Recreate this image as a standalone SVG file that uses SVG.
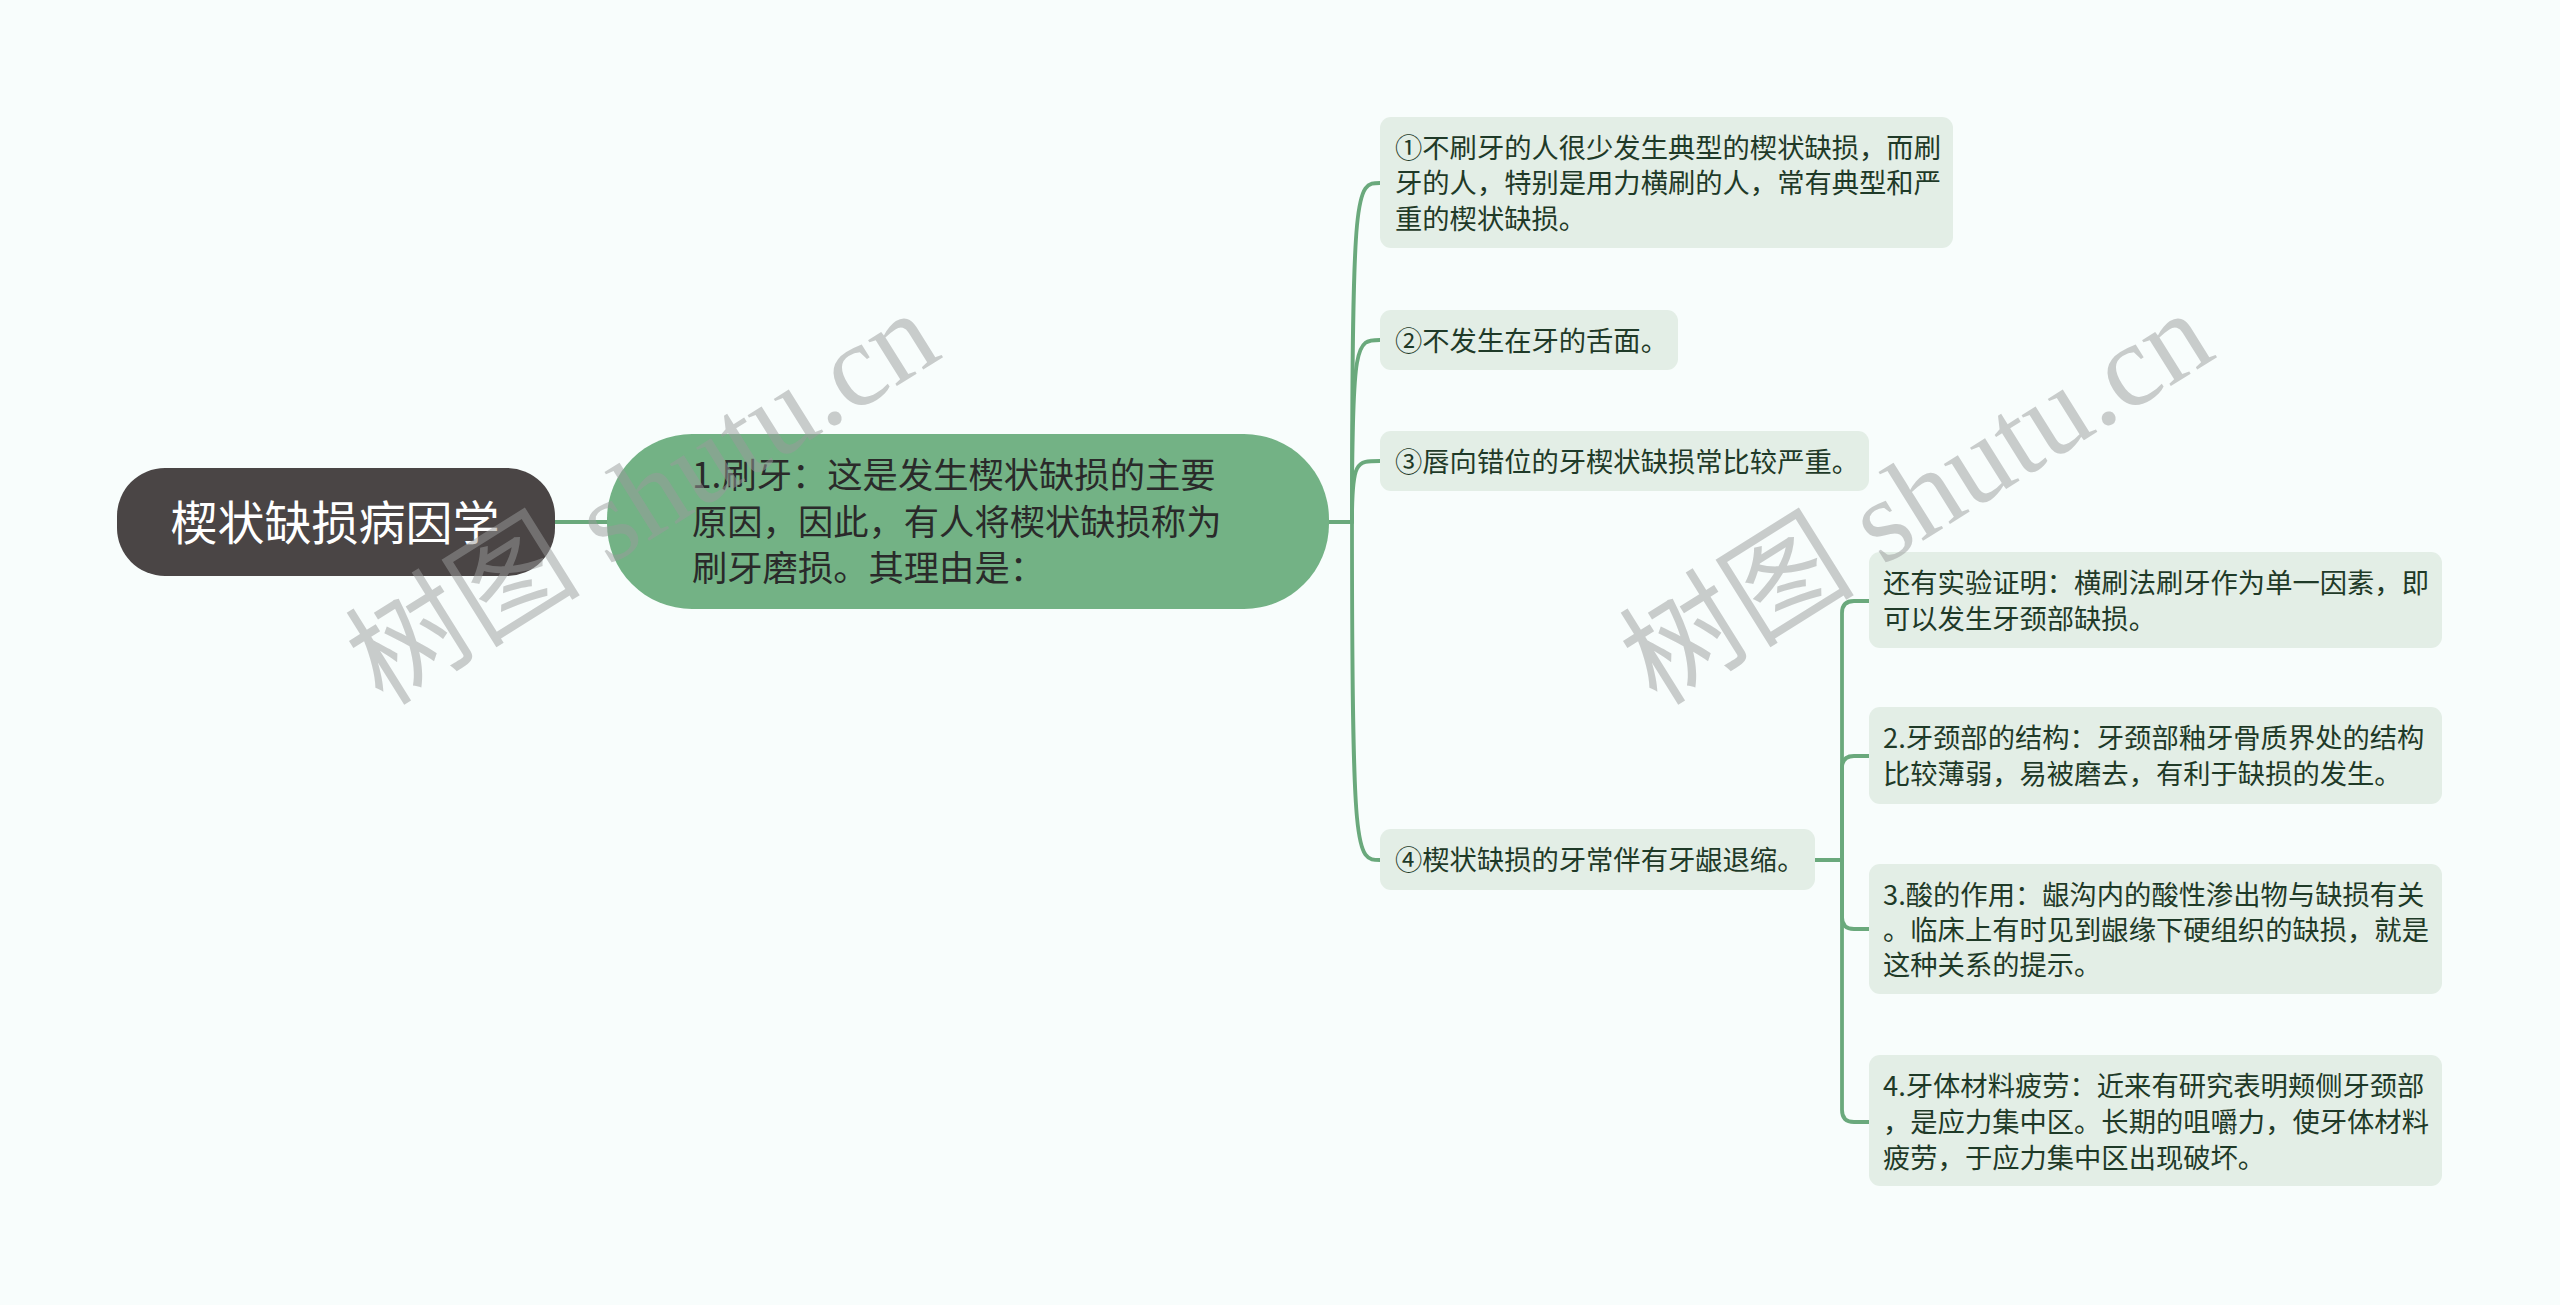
<svg xmlns="http://www.w3.org/2000/svg" width="2560" height="1305" viewBox="0 0 2560 1305">
<style>
.bg{fill:#f8fdfc}
.conn{fill:none;stroke:#6aa97c;stroke-width:3.8;stroke-linecap:round}
.leaf{fill:#e3eee6}
.t{font-family:"Noto Sans CJK SC","Noto Sans",sans-serif;dominant-baseline:central}
.lt{font-size:27.3px;fill:#1f3a28}
.mt{font-size:35.3px;fill:#2a2a2a}
.rt{font-size:47px;fill:#ffffff}
.wm{font-family:"Liberation Serif","Noto Sans CJK SC",serif;font-size:118px;fill:#9a9c9c;opacity:0.5}
</style>
<rect class="bg" x="0" y="0" width="2560" height="1305"/>
<g id="connectors">
<path class="conn" d="M555,522 H607"/>
<path class="conn" d="M1329,522 H1352"/>
<path class="conn" d="M1352,522 C1352,183 1356,183 1380,183"/>
<path class="conn" d="M1352,522 C1352,340 1356,340 1380,340"/>
<path class="conn" d="M1352,522 C1352,461 1356,461 1380,461"/>
<path class="conn" d="M1352,522 C1352,860 1356,860 1380,860"/>
<path class="conn" d="M1815,860 H1842"/>
<path class="conn" d="M1842,860 V613 Q1842,601 1854,601 H1869"/>
<path class="conn" d="M1842,860 V768 Q1842,756 1854,756 H1869"/>
<path class="conn" d="M1842,860 V917 Q1842,929 1854,929 H1869"/>
<path class="conn" d="M1842,860 V1110 Q1842,1122 1854,1122 H1869"/>
</g>
<g id="root">
<rect x="117" y="468" width="438" height="108" rx="48" fill="#4a4545"/>
<text class="t rt" x="335" y="519" text-anchor="middle">楔状缺损病因学</text>
</g>
<g id="n1">
<rect x="607" y="434" width="722" height="175" rx="85" fill="#73b285"/>
<text class="t mt" x="692" y="472">1.刷牙：这是发生楔状缺损的主要</text>
<text class="t mt" x="692" y="519">原因，因此，有人将楔状缺损称为</text>
<text class="t mt" x="692" y="565">刷牙磨损。其理由是：</text>
</g>
<g id="c1">
<rect class="leaf" x="1380" y="117" width="573" height="131" rx="11"/>
<text class="t lt" x="1395" y="146">①不刷牙的人很少发生典型的楔状缺损，而刷</text>
<text class="t lt" x="1395" y="181">牙的人，特别是用力横刷的人，常有典型和严</text>
<text class="t lt" x="1395" y="217">重的楔状缺损。</text>
</g>
<g id="c2">
<rect class="leaf" x="1380" y="310" width="298" height="60" rx="11"/>
<text class="t lt" x="1395" y="339">②不发生在牙的舌面。</text>
</g>
<g id="c3">
<rect class="leaf" x="1380" y="431" width="489" height="60" rx="11"/>
<text class="t lt" x="1395" y="460">③唇向错位的牙楔状缺损常比较严重。</text>
</g>
<g id="c4">
<rect class="leaf" x="1380" y="829" width="435" height="61" rx="11"/>
<text class="t lt" x="1395" y="858">④楔状缺损的牙常伴有牙龈退缩。</text>
</g>
<g id="d1">
<rect class="leaf" x="1869" y="552" width="573" height="96" rx="11"/>
<text class="t lt" x="1883" y="581">还有实验证明：横刷法刷牙作为单一因素，即</text>
<text class="t lt" x="1883" y="617">可以发生牙颈部缺损。</text>
</g>
<g id="d2">
<rect class="leaf" x="1869" y="707" width="573" height="97" rx="11"/>
<text class="t lt" x="1883" y="736">2.牙颈部的结构：牙颈部釉牙骨质界处的结构</text>
<text class="t lt" x="1883" y="772">比较薄弱，易被磨去，有利于缺损的发生。</text>
</g>
<g id="d3">
<rect class="leaf" x="1869" y="864" width="573" height="130" rx="11"/>
<text class="t lt" x="1883" y="893">3.酸的作用：龈沟内的酸性渗出物与缺损有关</text>
<text class="t lt" x="1883" y="928">。临床上有时见到龈缘下硬组织的缺损，就是</text>
<text class="t lt" x="1883" y="963">这种关系的提示。</text>
</g>
<g id="d4">
<rect class="leaf" x="1869" y="1055" width="573" height="131" rx="11"/>
<text class="t lt" x="1883" y="1084">4.牙体材料疲劳：近来有研究表明颊侧牙颈部</text>
<text class="t lt" x="1883" y="1120">，是应力集中区。长期的咀嚼力，使牙体材料</text>
<text class="t lt" x="1883" y="1156">疲劳，于应力集中区出现破坏。</text>
</g>
<g id="watermarks">
<text class="wm" transform="translate(383,707) rotate(-32)">树图 shutu.cn</text>
<text class="wm" transform="translate(1657,707) rotate(-32)">树图 shutu.cn</text>
</g>
</svg>
